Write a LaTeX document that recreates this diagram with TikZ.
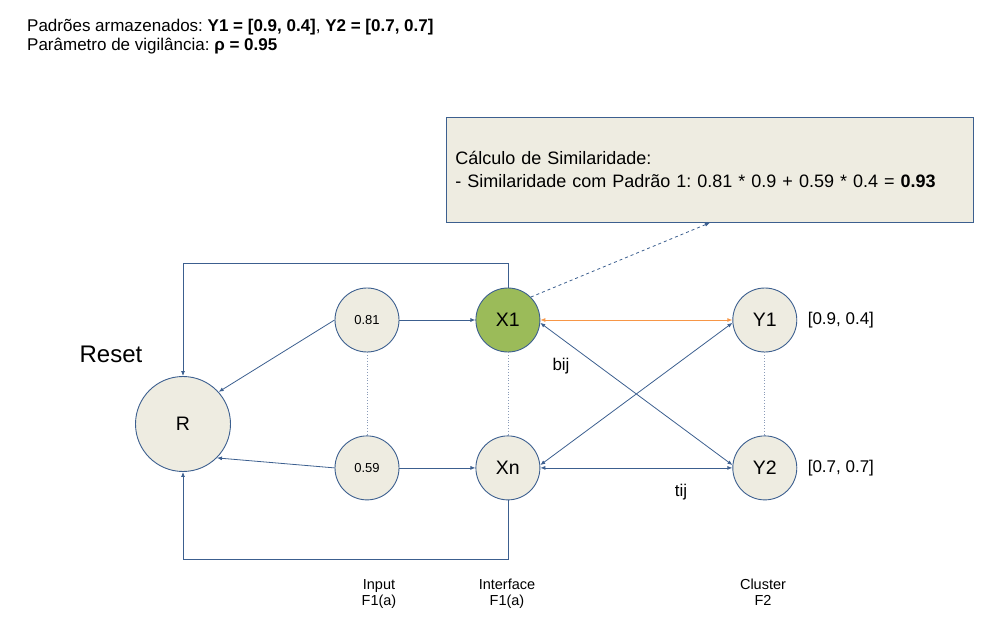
\documentclass[tikz,border=0pt]{standalone}
\usepackage{fontspec}
\setmainfont{Liberation Sans}
\usetikzlibrary{arrows.meta,positioning,calc}
\definecolor{Edge}{HTML}{3C5F8F}
\definecolor{Paper}{HTML}{EEECE1}
\definecolor{Leaf}{HTML}{9BBB59}
\definecolor{Amber}{HTML}{F79646}
\definecolor{Dots}{HTML}{8A9BB8}
\frenchspacing

\begin{document}
\begin{tikzpicture}[
  x=1pt, y=-1pt,
  node distance=83pt and 76pt,
  unit/.style={circle, draw=Edge, fill=Paper, line width=0.9pt, minimum size=64pt, inner sep=0pt, font=\fontsize{19.5}{22}\selectfont},
  small/.style={unit, font=\fontsize{13}{15}\selectfont},
  arr/.style={-{Latex[length=5pt,width=4pt]}, Edge, line width=0.8pt},
  both/.style={{Latex[length=5pt,width=4pt]}-{Latex[length=5pt,width=4pt]}, Edge, line width=0.8pt},
  link/.style={Dots, dotted, line width=0.8pt},
  lbl/.style={font=\fontsize{17}{19}\selectfont},
  layer/.style={align=center, anchor=north, inner sep=0pt, font=\fontsize{14.5}{16}\selectfont}
]
\useasboundingbox (0,0) rectangle (994,628);

% header
\node[anchor=west, align=left, inner sep=0pt, font=\fontsize{17}{19}\selectfont] (info) at (27,37)
  {Padrões armazenados: \textbf{Y1 = [0.9, 0.4]}, \textbf{Y2 = [0.7, 0.7]}\\Parâmetro de vigilância: \textbf{ρ = 0.95}};

% similarity box
\node[draw=Edge, fill=Paper, line width=0.8pt, anchor=north west, minimum height=105pt, text width=509pt, inner xsep=9pt, align=left, font=\fontsize{18}{23}\selectfont] (calc) at (446,117)
  {Cálculo de Similaridade:\\- Similaridade com Padrão 1: 0.81 * 0.9 + 0.59 * 0.4 = \textbf{0.93}};

% units
\node[unit, minimum size=95pt] (r) at (183,424) {R};
\node[small] (in81) at (367,320) {0.81};
\node[small, below=of in81] (in59) {0.59};
\node[unit, fill=Leaf, right=of in81] (x1) {X1};
\node[unit, below=of x1] (xn) {Xn};
\node[unit, right=192pt of x1] (y1) {Y1};
\node[unit, below=of y1] (y2) {Y2};

% labels
\node[font=\fontsize{24}{26}\selectfont] (reset) at (111,354) {Reset};
\node[lbl, right=7pt of y1] (p1) {[0.9, 0.4]};
\node[lbl, right=7pt of y2] (p2) {[0.7, 0.7]};
\node[lbl] (bij) at (561,366) {bij};
\node[lbl] (tij) at (681,492) {tij};
\node[layer] (lin) at (379,579) {Input\\F1(a)};
\node[layer] (lif) at (507,579) {Interface\\F1(a)};
\node[layer] (lcl) at (763,579) {Cluster\\F2};

% arrows
\draw[arr] (in81) -- (x1);
\draw[arr] (in59) -- (xn);
\draw[arr] (in81.west) -- (r.42);
\draw[arr] (in59.west) -- (r.-45);
\draw[arr] (x1.north) -- ++(0,-24) -| (r.north);
\draw[arr] (xn.south) -- ++(0,59) -| (r.south);
\draw[both, Amber] (x1.east) -- (y1.west);
\draw[both] (xn.east) -- (y2.west);
\draw[both] (x1.-5) -- (y2.175);
\draw[both] (xn.5) -- (y1.185);
\draw[arr, dashed] (x1.north east) -- (calc.south);
\draw[link] (in81) -- (in59);
\draw[link] (x1) -- (xn);
\draw[link] (y1) -- (y2);
\end{tikzpicture}
\end{document}
